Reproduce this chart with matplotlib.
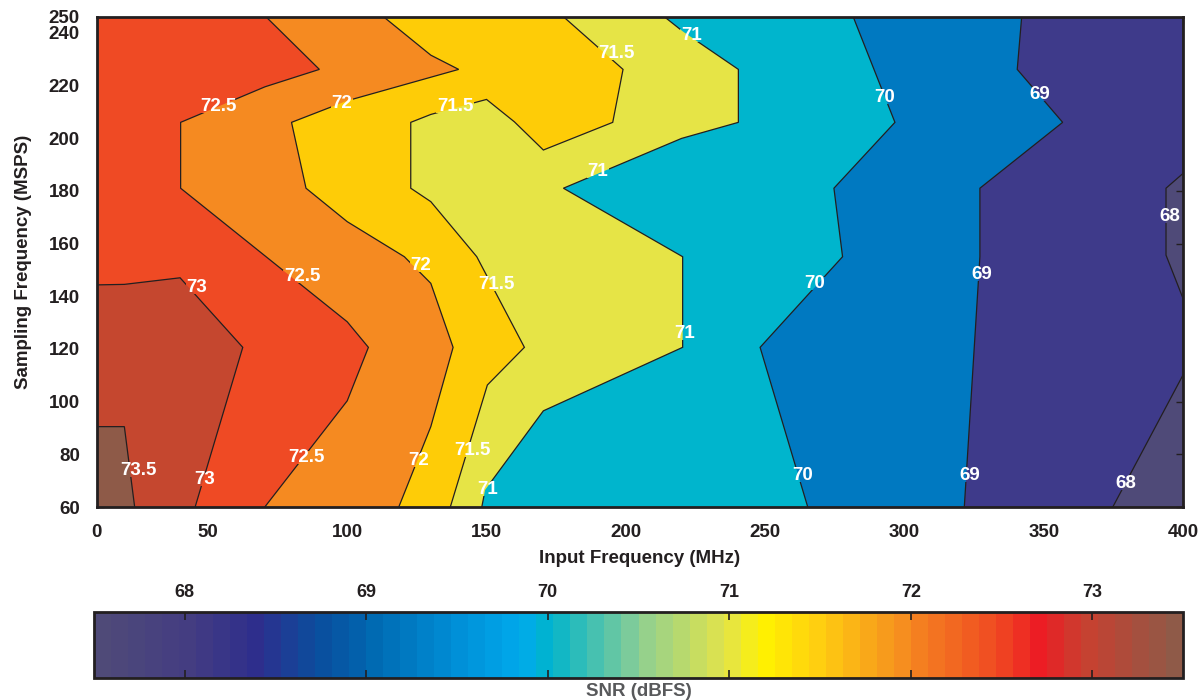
import numpy as np
import matplotlib
matplotlib.use("Agg")
import matplotlib.pyplot as plt
from matplotlib.colors import LinearSegmentedColormap, ListedColormap, Normalize
from matplotlib.cm import ScalarMappable
from matplotlib.path import Path
from matplotlib.transforms import IdentityTransform

plt.rcParams['font.family'] = ['Liberation Sans', 'DejaVu Sans']
plt.rcParams['font.weight'] = 'bold'

# ---------------- data (contour lines) ----------------
X_MIN, X_MAX = 10, 400
Y_MIN, Y_MAX = 60, 246.1

x_ticks = [10, 50, 100, 150, 200, 250, 300, 350, 400]
x_tick_labels = ['0', '50', '100', '150', '200', '250', '300', '350', '400']
y_ticks = [60, 80, 100, 120, 140, 160, 180, 200, 220, 240, 246.1]
y_tick_labels = ['60', '80', '100', '120', '140', '160', '180', '200', '220', '240', '250']

levels = [68, 69, 70, 71, 71.5, 72, 72.5, 73, 73.5]

c68_x = [400, 400, 393.9, 393.9, 400, 400, 374.8]
c68_y = [246.1, 186.6, 181, 155.6, 139.2, 110.1, 60]
c69_x = [342.1, 340.5, 356.8, 327.1, 327.1, 321.5]
c69_y = [246.1, 226.1, 206, 181, 155, 60]
c70_x = [281.6, 296.6, 274.7, 277.8, 248.2, 265.3]
c70_y = [246.1, 206, 181, 155, 120.6, 60]
c71_x = [213.8, 220.6, 240.4, 240.4, 220, 177.6, 220.4, 220.4, 170.4, 149.5, 148.3]
c71_y = [246.1, 240.4, 226.1, 206, 199.9, 181, 155, 120.6, 96.5, 66.5, 60]
c715_x = [177.6, 199, 195.3, 170.4, 160, 150, 130, 122.8, 122.8, 130, 146.5, 163.6, 150.3, 137]
c715_y = [246.1, 226.1, 206, 195.5, 206.2, 214.7, 209, 206, 181, 175.9, 155, 120.6, 106.3, 60]
c72_x = [113, 130, 140, 100, 80, 85.2, 100, 120.5, 130, 138, 130, 118.5]
c72_y = [246.1, 231.5, 226.1, 214.2, 206, 181, 168.3, 155, 144.9, 120.6, 90.5, 60]
c725_x = [70.8, 90, 70.5, 40.2, 40.2, 100, 107.6, 100, 70.4]
c725_y = [246.1, 226.1, 219.5, 206, 181, 130.3, 120.6, 100.3, 60]
c73_x = [10, 20, 40, 62.5, 45.4]
c73_y = [144.3, 144.5, 147, 120.6, 60]
c735_x = [10, 20, 23.7]
c735_y = [90.5, 90.5, 60]

contour_x = [c68_x, c69_x, c70_x, c71_x, c715_x, c72_x, c725_x, c73_x, c735_x]
contour_y = [c68_y, c69_y, c70_y, c71_y, c715_y, c72_y, c725_y, c73_y, c735_y]

# contour labels: (text, x, y)
label_text = ['72.5', '72', '71.5', '71.5', '71', '70', '69', '71', '68',
              '72.5', '73', '72', '71.5', '70', '69', '71',
              '73.5', '73', '72.5', '72', '71.5', '71', '70', '69', '68']
label_x = [53.6, 98.1, 138.7, 196.8, 223.7, 293.0, 348.6, 190.0, 395.3,
           83.9, 46.1, 126.5, 153.4, 267.9, 327.9, 221.2,
           24.9, 48.9, 85.2, 125.8, 145.1, 150.5, 263.6, 323.6, 379.5]
label_y = [212.2, 213.0, 212.2, 232.3, 239.1, 215.6, 216.7, 187.5, 170.1,
           147.3, 143.5, 151.5, 144.6, 145.0, 148.4, 126.0,
           74.0, 70.6, 78.6, 77.5, 81.6, 66.8, 72.1, 72.1, 69.1]

# colorbar range
cbar_min, cbar_max = 67.5, 73.5
cbar_ticks = [68, 69, 70, 71, 72, 73]

# ---------------- styles ----------------
band_below = '#4F4A78'
band_colors = ['#3E3A8A', '#0079C1', '#00B5CD', '#E6E446', '#FECC07',
               '#F58A21', '#EF4A24', '#C5472F', '#8E5A48']

anchor_pos = [67.5, 68.0, 68.35, 68.7, 69.0, 69.5, 69.85, 70.0, 70.5, 71.0,
              71.2, 71.5, 72.0, 72.5, 72.75, 73.0, 73.5]
anchor_col = ['#4F4A78', '#433C82', '#2E2E8C', '#0A4E9E', '#0068B0', '#0090D8',
              '#00AAEC', '#00B4CC', '#8CCE94', '#E4E448', '#FFF200', '#FFCF10',
              '#F58A20', '#F04C22', '#EC1C24', '#C84030', '#8F5A48']
frac = [(p - anchor_pos[0]) / (anchor_pos[-1] - anchor_pos[0]) for p in anchor_pos]
_lin = LinearSegmentedColormap.from_list('snr', list(zip(frac, anchor_col)))
cmap64 = ListedColormap(_lin(np.linspace(0, 1, 64)))

DARK = '#231F20'

fig = plt.figure(figsize=(12.02, 7.0), dpi=100)
ax = fig.add_axes([96.5 / 1202, 1 - 507 / 700, (1183 - 96.5) / 1202, (507 - 16.7) / 700])

# base band (below lowest level)
ax.fill([X_MIN, X_MAX, X_MAX, X_MIN], [Y_MIN, Y_MIN, Y_MAX, Y_MAX],
        color=band_below, lw=0, zorder=1)
# region >= each level, closed along the left edge
for cx, cy, col in zip(contour_x, contour_y, band_colors):
    px = [X_MIN] + list(cx) + [X_MIN]
    py = [cy[0]] + list(cy) + [cy[-1]]
    ax.fill(px, py, color=col, lw=0, zorder=2)

lines = []
for cx, cy in zip(contour_x, contour_y):
    ln, = ax.plot(cx, cy, color=DARK, lw=0.9, zorder=3, solid_joinstyle='miter')
    lines.append(ln)

texts = []
for s, x, y in zip(label_text, label_x, label_y):
    t = ax.text(x, y, s, color='white', fontsize=13.5, fontweight='bold',
                ha='center', va='center', zorder=5)
    texts.append(t)

ax.set_xlim(X_MIN, X_MAX)
ax.set_ylim(Y_MIN, Y_MAX)
ax.set_xticks(x_ticks)
ax.set_xticklabels(x_tick_labels)
ax.set_yticks(y_ticks)
ax.set_yticklabels(y_tick_labels)
ax.tick_params(direction='in', length=5, width=1.0, color=DARK, labelsize=13.5,
               labelcolor=DARK, top=True, right=True)
ax.tick_params(axis='x', pad=12.5)
ax.tick_params(axis='y', pad=12)
# hide tick marks at the corner positions
ax.yaxis.get_major_ticks()[-1].tick1line.set_visible(False)
ax.yaxis.get_major_ticks()[-1].tick2line.set_visible(False)
ax.xaxis.get_major_ticks()[0].tick1line.set_visible(False)
ax.xaxis.get_major_ticks()[0].tick2line.set_visible(False)
for sp in ax.spines.values():
    sp.set_linewidth(2.0)
    sp.set_color(DARK)
    sp.set_zorder(6)
ax.set_xlabel('Input Frequency (MHz)', fontsize=13.5, fontweight='bold', color=DARK, labelpad=6)
ax.set_ylabel('Sampling Frequency (MSPS)', fontsize=13.5, fontweight='bold', color=DARK, labelpad=12)

# colorbar
cax = fig.add_axes([94 / 1202, 1 - 678 / 700, (1183 - 94) / 1202, (678 - 612) / 700])
sm = ScalarMappable(norm=Normalize(cbar_min, cbar_max), cmap=cmap64)
cb = fig.colorbar(sm, cax=cax, orientation='horizontal', ticks=cbar_ticks)
cb.ax.tick_params(axis='x', direction='in', top=True, bottom=True, labeltop=True,
                  labelbottom=False, length=6, width=1.2, color=DARK,
                  labelsize=13, labelcolor=DARK, pad=8)
cb.ax.set_xticklabels([str(t) for t in cbar_ticks])
cb.outline.set_linewidth(2.0)
cb.outline.set_edgecolor(DARK)
fig.text((94 + 1183) / 2 / 1202, 9 / 700, 'SNR (dBFS)', ha='center', va='center',
         fontsize=13.5, fontweight='bold', color='#58595B')

# break contour lines under labels (like inline clabel)
fig.canvas.draw()
r = fig.canvas.get_renderer()
abb = ax.get_window_extent(r)
verts = [(abb.x0, abb.y0), (abb.x1, abb.y0), (abb.x1, abb.y1), (abb.x0, abb.y1), (abb.x0, abb.y0)]
codes = [Path.MOVETO, Path.LINETO, Path.LINETO, Path.LINETO, Path.CLOSEPOLY]
for t in texts:
    b = t.get_window_extent(r)
    x0, x1 = b.x0 - 1, b.x1 + 1
    y0, y1 = b.y0 + 2, b.y1 - 2
    verts += [(x0, y0), (x0, y1), (x1, y1), (x1, y0), (x0, y0)]
    codes += [Path.MOVETO, Path.LINETO, Path.LINETO, Path.LINETO, Path.CLOSEPOLY]
clip = Path(verts, codes)
for ln in lines:
    ln.set_clip_path(clip, IdentityTransform())

fig.savefig('out.png', dpi=100)
